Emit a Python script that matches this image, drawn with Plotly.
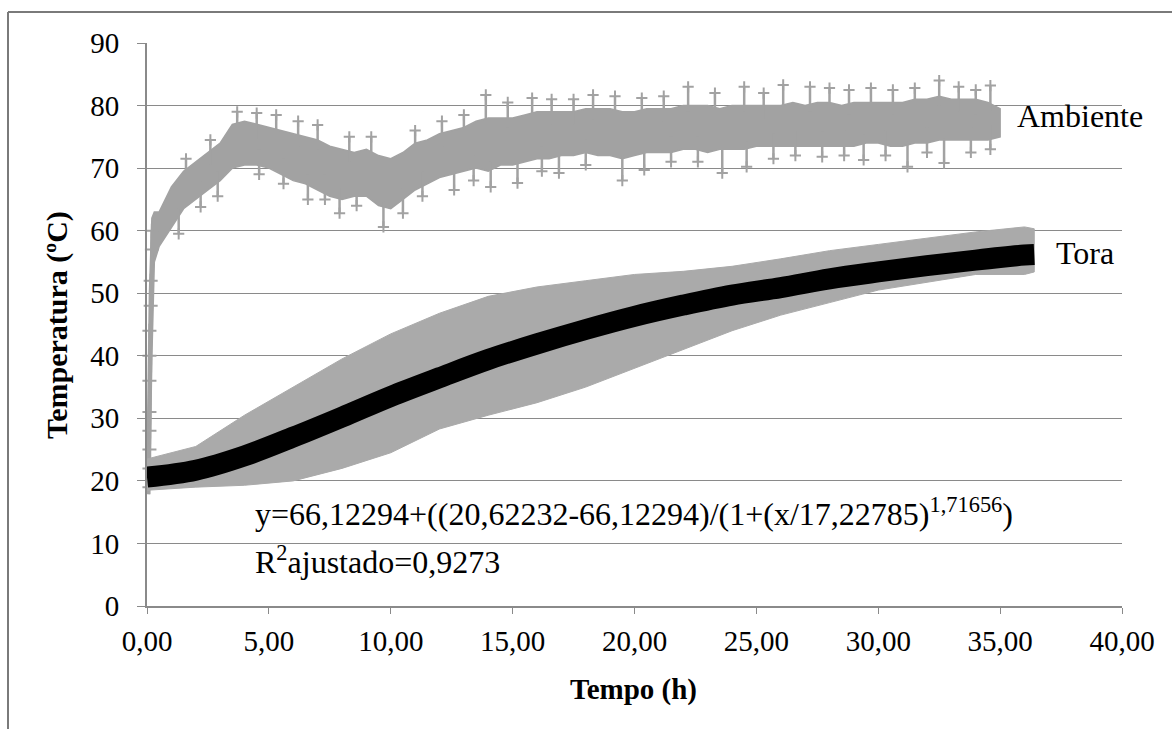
import plotly.graph_objects as go

# ---------------- data ----------------
# Ambiente: envelope of the dense noisy band (x in h, temperature in degC)
amb_x = [0, 0.1, 0.2, 0.3, 0.5, 1.0, 1.5, 2.0, 2.5, 3.0, 3.5, 4.0, 4.5, 5.0, 5.5, 6.0,
         6.5, 7.0, 7.5, 8.0, 8.5, 9.0, 9.5, 10.0, 10.5, 11.0, 11.5, 12.0, 12.5, 13.0,
         13.5, 14.0, 14.5, 15.0, 15.5, 16.0, 16.5, 17.0, 17.5, 18.0, 18.5, 19.0, 19.5,
         20.0, 20.5, 21.0, 21.5, 22.0, 22.5, 23.0, 23.5, 24.0, 24.5, 25.0, 25.5, 26.0,
         26.5, 27.0, 27.5, 28.0, 28.5, 29.0, 29.5, 30.0, 30.5, 31.0, 31.5, 32.0, 32.5,
         33.0, 33.5, 34.0, 34.5, 35.0]
amb_hi = [22, 50, 62, 63, 63, 67, 69.5, 71, 72.5, 74, 77, 77.5, 77, 76.5, 76, 75.5,
          75, 74.5, 73.5, 73, 72.5, 73, 72, 71.5, 72.5, 74, 74.5, 75.5, 76, 76.5,
          77.5, 78, 78, 78, 78.5, 79, 79, 79, 79, 79.5, 79.5, 79.5, 79,
          79, 79.5, 79.5, 79.5, 80, 80, 80, 79.5, 80, 80, 80, 80, 80,
          80.5, 80, 80.5, 80.5, 80, 80.5, 80.5, 80.5, 80.5, 80.5, 81, 81, 81.5,
          81, 81, 81, 80.5, 79.5]
amb_lo = [18, 18, 40, 55, 57.5, 60.5, 63.5, 65, 66.5, 68, 70, 70.5, 70.5, 70, 69, 68,
          67.5, 66.5, 65.5, 65, 65.5, 65.5, 64, 63.5, 65, 66.5, 67.5, 68.5, 69, 69.5,
          70, 69.5, 70.5, 70.5, 71, 71.5, 71.5, 72, 72, 72.5, 72, 72, 71.5,
          72, 72.5, 72.5, 72.5, 73, 73, 72.5, 73, 73, 73, 73.5, 73.5, 73.5,
          73.5, 73.5, 73.5, 73.5, 73.5, 73.5, 74, 74, 73.5, 73.5, 74, 74, 74.5,
          74.5, 74.5, 74.5, 74.5, 75]

# Ambiente: "+" readings that stick out of the band (spike tips)
rise_x = [0.1, 0.1, 0.1, 0.1, 0.1, 0.1, 0.1, 0.1, 0.15, 0.15, 0.2, 0.2]
rise_y = [19, 22, 25, 28, 31, 36, 40, 44, 48, 52, 57, 60]
spike_lo_x = [1.3, 2.2, 2.9, 4.6, 5.6, 6.6, 7.3, 7.9, 8.6, 9.7, 10.5, 11.3, 12.6, 13.4,
              14.1, 15.2, 16.2, 16.9, 18.0, 19.5, 20.4, 21.5, 22.6, 23.6, 24.6, 25.7,
              26.6, 27.7, 28.6, 29.4, 30.3, 31.2, 32.0, 32.7, 33.8, 34.6]
spike_lo_y = [59.5, 63.8, 65.5, 69, 67.5, 65, 65, 62.8, 64, 60.6, 62.8, 65.5, 66.5, 68,
              67, 67.6, 69.5, 69.2, 70.5, 68, 69.7, 71, 71, 69.2, 70.2, 71.5,
              72, 71.8, 72, 71.3, 72, 70.2, 72.5, 70.8, 72.5, 73]
spike_hi_x = [1.6, 2.6, 3.7, 4.5, 5.3, 6.2, 7.0, 8.3, 9.2, 11.0, 12.1, 13.0, 13.9, 14.8,
              15.8, 16.6, 17.5, 18.3, 19.2, 20.3, 21.2, 22.2, 23.3, 24.5, 25.3, 26.1,
              27.2, 28.0, 28.8, 29.7, 30.6, 31.5, 32.5, 33.3, 34.0, 34.6]
spike_hi_y = [71.5, 74.5, 79, 78.8, 78.5, 77.5, 76.9, 75, 75, 76, 77.5, 78.5, 81.7, 80.5,
              81.2, 81, 81, 81.7, 81.5, 81.2, 81.5, 83, 82, 83, 82, 83.3,
              83, 82.8, 82.5, 82.8, 82.5, 82.8, 84, 83, 82.5, 83.2]

# Tora: measured spread (grey band) and fitted curve (black)
tora_x = [0, 2, 4, 6, 8, 10, 12, 14, 16, 18, 20, 22, 24, 26, 28, 30, 32, 34, 36, 36.4]
tora_hi = [23.5, 25.5, 30.5, 35, 39.5, 43.5, 46.8, 49.5, 51, 52, 53, 53.5, 54.3, 55.5,
           56.8, 57.8, 58.8, 59.8, 60.6, 60.3]
tora_lo = [18.5, 19, 19.3, 20, 22, 24.5, 28.3, 30.5, 32.5, 35, 38, 41, 44, 46.5,
           48.5, 50.5, 51.8, 53, 53, 53.4]
fit_y = [20.6, 21.7, 24.0, 27.0, 30.2, 33.5, 36.5, 39.4, 41.9, 44.2, 46.3, 48.1, 49.7,
         50.9, 52.3, 53.4, 54.4, 55.3, 56.1, 56.2]

x_ticks = [0, 5, 10, 15, 20, 25, 30, 35, 40]
x_tick_text = ["0,00", "5,00", "10,00", "15,00", "20,00", "25,00", "30,00", "35,00", "40,00"]
y_ticks = [0, 10, 20, 30, 40, 50, 60, 70, 80, 90]

equation = "y=66,12294+((20,62232-66,12294)/(1+(x/17,22785)<sup>1,71656</sup>)"
r2_text = "R<sup>2</sup>ajustado=0,9273"

# ---------------- figure ----------------
FONT = "Liberation Serif"
GRID = "#8a8a8a"
AMB = "#a2a2a2"

fig = go.Figure()

# Ambiente band
fig.add_trace(go.Scatter(
    x=amb_x + amb_x[::-1], y=amb_hi + amb_lo[::-1],
    fill="toself", fillcolor=AMB, line=dict(color=AMB, width=1.5),
    mode="lines", hoverinfo="skip", showlegend=False))
# Ambiente spikes: "+" tip with a stroke that runs back into the band
fig.add_trace(go.Scatter(
    x=spike_lo_x, y=spike_lo_y, mode="markers",
    marker=dict(symbol="cross-thin", size=8, line=dict(color=AMB, width=2)),
    error_y=dict(type="constant", value=4, valueminus=0, symmetric=False,
                 color=AMB, thickness=2.5, width=0),
    hoverinfo="skip", showlegend=False))
fig.add_trace(go.Scatter(
    x=spike_hi_x, y=spike_hi_y, mode="markers",
    marker=dict(symbol="cross-thin", size=8, line=dict(color=AMB, width=2)),
    error_y=dict(type="constant", value=0, valueminus=4, symmetric=False,
                 color=AMB, thickness=2.5, width=0),
    hoverinfo="skip", showlegend=False))
fig.add_trace(go.Scatter(
    x=rise_x, y=rise_y, mode="markers",
    marker=dict(symbol="cross-thin", size=10, line=dict(color=AMB, width=2)),
    hoverinfo="skip", showlegend=False, cliponaxis=False))
fig.add_trace(go.Scatter(
    x=[rise_x[0], rise_x[-1]], y=[rise_y[0], rise_y[-1]], mode="lines",
    line=dict(color=AMB, width=3), hoverinfo="skip", showlegend=False))

# Tora band
fig.add_trace(go.Scatter(
    x=tora_x + tora_x[::-1], y=tora_hi + tora_lo[::-1],
    fill="toself", fillcolor="#aaaaaa", line=dict(color="#aaaaaa", width=1),
    mode="lines", hoverinfo="skip", showlegend=False))
# Tora fitted curve
fig.add_trace(go.Scatter(
    x=tora_x, y=fit_y, mode="lines", line=dict(color="#000000", width=21, shape="spline"),
    showlegend=False))

TXT = 32
annotations = [
    dict(x=35.6, y=78.4, xref="x", yref="y", text="Ambiente", showarrow=False,
         xanchor="left", yanchor="middle", font=dict(family=FONT, size=TXT, color="#000")),
    dict(x=37.2, y=56.4, xref="x", yref="y", text="Tora", showarrow=False,
         xanchor="left", yanchor="middle", font=dict(family=FONT, size=TXT, color="#000")),
    dict(x=4.35, y=15.0, xref="x", yref="y", text=equation, showarrow=False,
         xanchor="left", yanchor="middle", font=dict(family=FONT, size=TXT, color="#000")),
    dict(x=4.35, y=7.3, xref="x", yref="y", text=r2_text, showarrow=False,
         xanchor="left", yanchor="middle", font=dict(family=FONT, size=TXT, color="#000")),
    dict(x=0.4985, y=-0.149, xref="paper", yref="paper", text="<b>Tempo (h)</b>",
         showarrow=False, xanchor="center", yanchor="middle",
         font=dict(family=FONT, size=29, color="#000")),
    dict(x=-0.0923, y=0.499, xref="paper", yref="paper", text="<b>Temperatura (ºC)</b>",
         showarrow=False, textangle=-90, xanchor="center", yanchor="middle",
         font=dict(family=FONT, size=30, color="#000")),
]

pl, pr, pt, pb = 147, 1122, 43, 606
W, H = 1174, 729
def px2paper_x(px):
    return (px - pl) / (pr - pl)
def px2paper_y(py):
    return (pb - py) / (pb - pt)

shapes = [
    dict(type="line", xref="paper", yref="paper",
         x0=px2paper_x(8), x1=px2paper_x(1172), y0=px2paper_y(12), y1=px2paper_y(12),
         line=dict(color="#7a7a7a", width=2)),
    dict(type="line", xref="paper", yref="paper",
         x0=px2paper_x(8), x1=px2paper_x(8), y0=px2paper_y(12), y1=px2paper_y(729),
         line=dict(color="#7a7a7a", width=2)),
]

fig.update_layout(
    width=W, height=H,
    margin=dict(l=pl, r=W - pr, t=pt, b=H - pb),
    paper_bgcolor="white", plot_bgcolor="white",
    showlegend=False,
    annotations=annotations,
    shapes=shapes,
    font=dict(family=FONT, color="#000"),
)
fig.update_xaxes(
    range=[0, 40], tickvals=x_ticks, ticktext=x_tick_text,
    showgrid=False, zeroline=False, showline=True, linecolor=GRID, linewidth=1.5,
    ticks="outside", ticklen=6, tickcolor=GRID, tickwidth=1,
    tickfont=dict(family=FONT, size=29, color="#000"), ticklabelstandoff=2,
)
fig.update_yaxes(
    range=[0, 90], tickvals=y_ticks,
    showgrid=True, gridcolor=GRID, gridwidth=1, zeroline=False,
    showline=True, linecolor=GRID, linewidth=2,
    ticks="outside", ticklen=8, tickcolor=GRID, tickwidth=1,
    tickfont=dict(family=FONT, size=29, color="#000"), ticklabelstandoff=12,
)

fig.write_html("out.html")
